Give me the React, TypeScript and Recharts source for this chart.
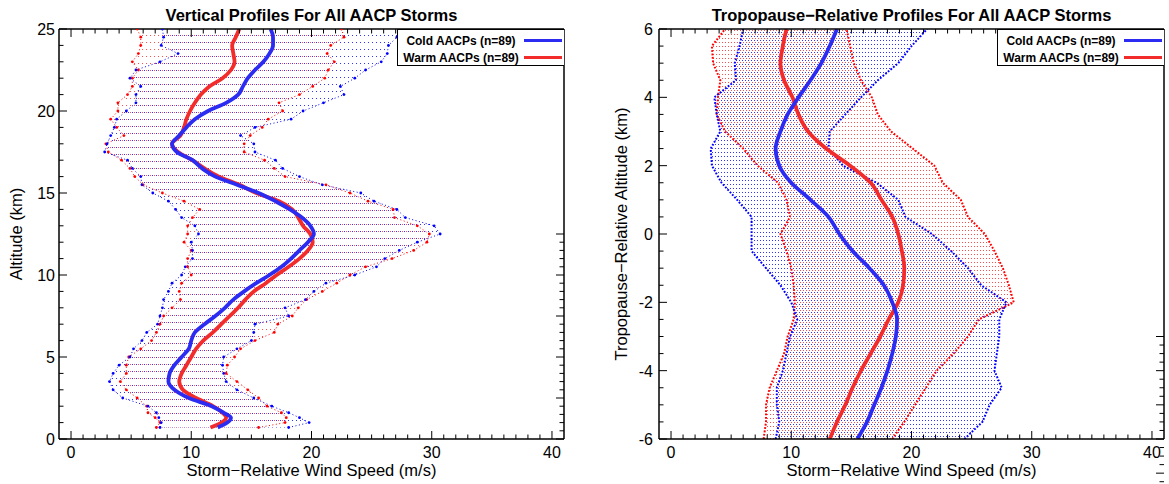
import React from 'react'
import { Area, ComposedChart, Legend, Line, XAxis, YAxis } from 'recharts'

// ---- Vertical profiles (altitude, km) ----
const altLevels = [
  0.7, 1.0, 1.3, 1.6, 2.0, 2.5, 3.0, 3.5, 4.0, 4.5, 5.0, 5.5, 6.0, 6.5, 7.0, 7.5, 8.0,
  8.5, 9.0, 9.5, 10.0, 10.5, 11.0, 11.5, 12.0, 12.5, 13.0, 13.5, 14.0, 14.5, 15.0, 15.5,
  16.0, 16.5, 17.0, 17.5, 18.0, 18.5, 19.0, 19.5, 20.0, 20.5, 21.0, 21.5, 22.0, 22.5,
  23.0, 23.5, 24.0, 24.5, 25.0,
]
const altColdMean = [
  12.2, 13.0, 13.3, 12.7, 11.7, 9.8, 8.6, 8.1, 8.2, 8.6, 9.2, 9.8, 10.0, 10.3, 11.1, 12.0, 12.8,
  13.5, 14.4, 15.4, 16.5, 17.5, 18.3, 19.0, 19.7, 20.2, 19.9, 19.2, 18.2, 17.0, 15.6, 13.8,
  12.0, 10.9, 10.1, 8.8, 8.4, 9.0, 9.6, 10.3, 11.4, 12.9, 13.9, 14.3, 14.7, 15.3,
  16.0, 16.5, 16.8, 16.8, 16.6,
]
const altWarmMean = [
  11.6, 12.5, 12.9, 12.6, 11.8, 10.4, 9.3, 9.0, 9.2, 9.6, 10.0, 10.4, 11.0, 11.8, 12.5, 13.2, 13.9,
  14.5, 15.2, 16.2, 17.1, 18.1, 19.0, 19.7, 20.1, 19.9, 19.3, 18.9, 18.4, 17.3, 15.4, 14.0,
  12.3, 11.1, 10.1, 8.9, 8.4, 9.1, 9.4, 9.6, 9.9, 10.3, 10.8, 11.5, 12.6, 13.3,
  13.6, 13.5, 13.4, 13.7, 14.0,
]
const altColdLo = [
  7.4, 7.5, 7.3, 7.1, 6.4, 4.3, 3.5, 3.2, 3.5, 4.0, 4.9, 5.2, 5.9, 6.3, 7.2, 7.4, 7.6,
  7.7, 8.1, 8.4, 9.2, 9.5, 10.1, 10.1, 10.0, 10.6, 10.3, 9.2, 8.7, 8.1, 6.8, 5.9,
  5.8, 5.1, 4.7, 2.8, 3.0, 3.3, 3.6, 3.8, 4.6, 5.4, 5.4, 5.8, 4.9, 5.4,
  7.4, 8.9, 7.5, 7.7, 7.6,
]
const altColdHi = [
  18.1, 19.8, 19.0, 18.1, 16.7, 15.2, 13.8, 12.9, 12.7, 12.6, 12.7, 13.8, 15.0, 15.2, 15.3, 18.1, 17.8,
  19.5, 20.2, 21.2, 23.6, 25.4, 26.1, 27.3, 28.8, 30.7, 30.2, 27.8, 27.1, 25.2, 24.1, 20.9,
  19.0, 17.6, 17.0, 15.3, 15.2, 14.1, 15.3, 18.3, 19.3, 21.0, 22.7, 22.4, 23.6, 24.5,
  25.8, 26.3, 26.4, 27.1, 27.5,
]
const altWarmLo = [
  7.1, 7.4, 7.0, 6.4, 6.3, 5.5, 4.6, 4.1, 4.6, 4.6, 4.8, 5.8, 6.7, 7.1, 7.4, 7.7, 8.4,
  9.1, 9.0, 9.2, 10.0, 9.7, 9.7, 10.0, 9.4, 9.7, 9.7, 10.1, 10.7, 9.4, 7.6, 6.0,
  5.3, 4.9, 4.2, 3.1, 2.9, 4.4, 3.8, 3.3, 3.9, 3.9, 4.7, 5.1, 5.1, 5.6,
  5.1, 5.6, 5.8, 5.8, 5.5,
]
const altWarmHi = [
  15.6, 17.8, 17.9, 17.5, 16.3, 15.6, 14.7, 13.8, 12.9, 13.0, 13.6, 14.1, 15.3, 16.9, 17.2, 18.4, 18.9,
  19.6, 20.9, 22.1, 23.2, 24.5, 26.7, 28.5, 29.6, 29.8, 28.8, 26.9, 26.8, 24.7, 23.2, 21.2,
  17.8, 16.9, 16.1, 14.4, 14.4, 14.9, 15.9, 16.4, 17.6, 17.3, 19.0, 20.1, 21.1, 21.4,
  21.9, 21.3, 21.6, 22.7, 22.5,
]

// ---- Tropopause-relative profiles (km above/below tropopause) ----
const tropLevels = [
  -6, -5.5, -5, -4.5, -4, -3.5, -3, -2.5, -2, -1.5, -1, -0.5, 0,
  0.5, 1, 1.5, 2, 2.5, 3, 3.5, 4, 4.5, 5, 5.5, 6,
]
const tropColdMean = [
  15.5, 16.3, 16.9, 17.5, 18.0, 18.4, 18.7, 18.8, 18.4, 17.7, 16.5, 15.1, 14.0,
  13.1, 11.6, 10.0, 9.0, 8.7, 9.1, 9.7, 10.6, 11.6, 12.5, 13.2, 13.8,
]
const tropWarmMean = [
  13.2, 13.8, 14.5, 15.1, 15.8, 16.6, 17.4, 18.1, 18.9, 19.3, 19.4, 19.2, 18.9,
  18.4, 17.5, 16.6, 14.9, 12.9, 11.4, 10.6, 10.1, 9.4, 9.1, 9.3, 9.6,
]
const tropColdLo = [
  8.7, 9.0, 8.8, 8.8, 9.3, 9.6, 9.9, 10.5, 10.0, 9.1, 7.9, 6.7, 6.7,
  6.7, 5.5, 4.2, 3.4, 3.3, 4.1, 3.8, 3.6, 5.4, 5.3, 5.7, 6.0,
]
const tropColdHi = [
  24.4, 25.9, 26.5, 27.5, 26.9, 27.1, 27.3, 27.3, 27.9, 25.8, 24.7, 23.3, 21.7,
  19.5, 18.9, 17.1, 14.3, 13.1, 13.2, 14.5, 15.8, 17.2, 18.9, 20.0, 21.3,
]
const tropWarmLo = [
  7.7, 7.9, 7.9, 8.2, 8.8, 9.4, 9.7, 10.2, 10.3, 10.2, 10.0, 9.6, 9.1,
  9.9, 9.6, 8.9, 7.2, 6.0, 4.5, 3.8, 3.9, 4.1, 3.5, 3.4, 4.5,
]
const tropWarmHi = [
  18.4, 19.4, 20.3, 21.2, 22.1, 23.5, 24.7, 25.6, 28.5, 28.1, 27.6, 26.9, 26.1,
  24.7, 24.1, 22.6, 21.9, 20.1, 18.3, 17.2, 16.7, 15.8, 15.2, 14.9, 14.6,
]

// axis ticks
const speedTicks = Array.from({ length: 41 }, (_, i) => i)
const speedLabels = [0, 10, 20, 30, 40]
const altTicks = Array.from({ length: 26 }, (_, i) => i)
const altLabels = [0, 5, 10, 15, 20, 25]
const tropTicks = Array.from({ length: 25 }, (_, i) => -6 + i * 0.5)
const tropLabels = [-6, -4, -2, 0, 2, 4, 6]

const COLD_NAME = 'Cold AACPs (n=89)'
const WARM_NAME = 'Warm AACPs (n=89)'
const BLUE = '#0000ff'
const RED = '#ff0000'
const BLUE_LINE = '#2b2bf2'
const RED_LINE = '#f22b2b'
const FONT = '"Liberation Sans", Arial, Helvetica, sans-serif'

const PLOT_TOP = 29
const CHART_H = 484
const PLOT_BOTTOM = 439
const MAJOR = 8
const MINOR = 4.5
// axes get a 1px band so they still render
const AX = 1

const isLabel = (labels: number[], v: number) => labels.some((l) => Math.abs(l - v) < 1e-6)

function BottomTick({ x, y, payload, labels }: any) {
  const major = isLabel(labels, payload.value)
  return (
    <g>
      <line x1={x} x2={x} y1={y} y2={y - (major ? MAJOR : MINOR)} stroke="#000" strokeWidth={1} />
      {major && (
        <text x={x} y={y + 19} textAnchor="middle" fontSize={16} fill="#000" fontFamily={FONT}>
          {payload.value}
        </text>
      )}
    </g>
  )
}

function TopTick({ x, y, payload, labels }: any) {
  const major = isLabel(labels, payload.value)
  return <line x1={x} x2={x} y1={y} y2={y + (major ? MAJOR : MINOR)} stroke="#000" strokeWidth={1} />
}

function LeftTick({ x, y, payload, labels, gap }: any) {
  const major = isLabel(labels, payload.value)
  return (
    <g>
      <line x1={x} x2={x + (major ? MAJOR : MINOR)} y1={y} y2={y} stroke="#000" strokeWidth={1} />
      {major && (
        <text x={x - gap} y={y + 6} textAnchor="end" fontSize={16} fill="#000" fontFamily={FONT}>
          {payload.value}
        </text>
      )}
    </g>
  )
}

function RightTick({ x, y, payload, labels }: any) {
  const major = isLabel(labels, payload.value)
  return <line x1={x} x2={x - (major ? MAJOR : MINOR)} y1={y} y2={y} stroke="#000" strokeWidth={1} />
}

function LegendBox({ payload }: any) {
  const items = ['coldMean', 'warmMean']
    .map((k) => (payload || []).find((p: any) => p.dataKey === k))
    .filter(Boolean)
  return (
    <div
      style={{
        width: 167,
        height: 37,
        boxSizing: 'border-box',
        border: '1.5px solid #000',
        borderRight: 'none',
        background: '#fff',
        paddingTop: 2,
        fontFamily: FONT,
      }}
    >
      {items.map((it: any) => (
        <div key={it.dataKey} style={{ display: 'flex', alignItems: 'center', height: 17 }}>
          <span style={{ width: 126, textAlign: 'center', fontWeight: 'bold', fontSize: 12, color: '#000' }}>
            {it.value}
          </span>
          <span style={{ width: 38, height: 3, background: it.color }} />
        </div>
      ))}
    </div>
  )
}

type Series = { mean: number[]; lo: number[]; hi: number[] }

type PanelProps = {
  id: string
  left: number
  width: number
  plotLeft: number
  plotRight: number
  title: string
  yTitle: string
  yTitleX: number
  levels: number[]
  cold: Series
  warm: Series
  yDomain: [number, number]
  yTicks: number[]
  yLabels: number[]
  labelGap: number
  rowGap: number
  dotGap: number
  edge: { width: number; dash: string; r: number }
}

function ProfilePanel(p: PanelProps) {
  const plotW = p.plotRight - p.plotLeft
  const data = p.levels.map((alt, i) => ({
    alt,
    coldMean: p.cold.mean[i],
    warmMean: p.warm.mean[i],
    coldLo: p.cold.lo[i],
    coldHi: p.cold.hi[i],
    warmLo: p.warm.lo[i],
    warmHi: p.warm.hi[i],
    coldBand: [p.cold.lo[i], p.cold.hi[i]],
    warmBand: [p.warm.lo[i], p.warm.hi[i]],
  }))
  const edgeLine = (key: string, color: string) => (
    <Line
      key={key}
      dataKey={key}
      type="linear"
      stroke={color}
      strokeWidth={p.edge.width}
      strokeDasharray={p.edge.dash}
      dot={p.edge.r ? { r: p.edge.r, fill: color, stroke: 'none' } : false}
      activeDot={false}
      legendType="none"
      isAnimationActive={false}
    />
  )
  const axisLine = { stroke: '#000', strokeWidth: 1.5 }
  return (
    <div style={{ position: 'absolute', left: p.left, top: 0, width: p.width, height: CHART_H }}>
      <div
        style={{
          position: 'absolute',
          left: p.plotLeft,
          width: plotW,
          top: 5,
          lineHeight: '20px',
          textAlign: 'center',
          whiteSpace: 'nowrap',
          fontWeight: 'bold',
          fontSize: 16.5,
          fontFamily: FONT,
        }}
      >
        {p.title}
      </div>
      <div
        style={{
          position: 'absolute',
          left: p.plotLeft,
          width: plotW,
          top: 462,
          lineHeight: '16px',
          textAlign: 'center',
          fontSize: 16.5,
          fontFamily: FONT,
        }}
      >
        Storm−Relative Wind Speed (m/s)
      </div>
      <div
        style={{
          position: 'absolute',
          left: p.yTitleX - 200,
          width: 400,
          top: (PLOT_TOP + PLOT_BOTTOM) / 2 - 10,
          textAlign: 'center',
          fontSize: 16.5,
          fontFamily: FONT,
          transform: 'rotate(-90deg)',
          lineHeight: '20px',
        }}
      >
        {p.yTitle}
      </div>
      <ComposedChart
        width={p.width}
        height={CHART_H}
        layout="vertical"
        data={data}
        margin={{
          top: PLOT_TOP - AX,
          bottom: CHART_H - PLOT_BOTTOM - AX,
          left: p.plotLeft - AX,
          right: p.width - p.plotRight - AX,
        }}
      >
        <defs>
          <pattern id={`${p.id}-cold`} width={p.dotGap} height={p.rowGap} patternUnits="userSpaceOnUse">
            <rect x={0} y={0} width={1} height={1} fill={BLUE} fillOpacity={0.8} />
          </pattern>
          <pattern id={`${p.id}-warm`} width={p.dotGap} height={p.rowGap} patternUnits="userSpaceOnUse">
            <rect
              x={Math.floor(p.dotGap / 2)}
              y={p.rowGap > 5 ? 0 : Math.floor(p.rowGap / 2)}
              width={1}
              height={1}
              fill={RED}
              fillOpacity={0.7}
            />
          </pattern>
        </defs>
        <XAxis
          type="number"
          domain={[-1, 41]}
          ticks={speedTicks}
          interval={0}
          allowDataOverflow
          height={AX}
          tickSize={0}
          tickMargin={0}
          axisLine={axisLine}
          tick={(t: any) => <BottomTick {...t} labels={speedLabels} />}
        />
        <XAxis
          xAxisId="top"
          orientation="top"
          type="number"
          domain={[-1, 41]}
          ticks={speedTicks}
          interval={0}
          allowDataOverflow
          height={AX}
          tickSize={0}
          tickMargin={0}
          axisLine={axisLine}
          tick={(t: any) => <TopTick {...t} labels={speedLabels} />}
        />
        <YAxis
          type="number"
          dataKey="alt"
          reversed
          domain={p.yDomain}
          ticks={p.yTicks}
          interval={0}
          allowDataOverflow
          width={AX}
          tickSize={0}
          tickMargin={0}
          axisLine={axisLine}
          tick={(t: any) => <LeftTick {...t} labels={p.yLabels} gap={p.labelGap} />}
        />
        <YAxis
          yAxisId="right"
          orientation="right"
          type="number"
          reversed
          domain={p.yDomain}
          ticks={p.yTicks}
          interval={0}
          allowDataOverflow
          width={AX}
          tickSize={0}
          tickMargin={0}
          axisLine={axisLine}
          tick={(t: any) => <RightTick {...t} labels={p.yLabels} />}
        />
        <Area
          dataKey="coldBand"
          type="linear"
          stroke="none"
          fill={`url(#${p.id}-cold)`}
          fillOpacity={1}
          dot={false}
          activeDot={false}
          legendType="none"
          isAnimationActive={false}
        />
        <Area
          dataKey="warmBand"
          type="linear"
          stroke="none"
          fill={`url(#${p.id}-warm)`}
          fillOpacity={1}
          dot={false}
          activeDot={false}
          legendType="none"
          isAnimationActive={false}
        />
        {edgeLine('warmLo', RED)}
        {edgeLine('warmHi', RED)}
        {edgeLine('coldLo', BLUE)}
        {edgeLine('coldHi', BLUE)}
        <Line
          dataKey="warmMean"
          name={WARM_NAME}
          type="monotone"
          stroke={RED_LINE}
          strokeWidth={3.8}
          dot={false}
          activeDot={false}
          isAnimationActive={false}
        />
        <Line
          dataKey="coldMean"
          name={COLD_NAME}
          type="monotone"
          stroke={BLUE_LINE}
          strokeWidth={3.8}
          dot={false}
          activeDot={false}
          isAnimationActive={false}
        />
        <Legend
          layout="vertical"
          align="center"
          verticalAlign="middle"
          wrapperStyle={{ top: PLOT_TOP, left: p.plotRight - 167, width: 167 }}
          content={(props: any) => <LegendBox {...props} />}
        />
      </ComposedChart>
    </div>
  )
}

export default function App() {
  return (
    <div
      style={{
        position: 'absolute',
        left: 0,
        top: 0,
        width: 1169,
        height: 484,
        overflow: 'hidden',
        background: '#fff',
        fontFamily: FONT,
      }}
    >
      <ProfilePanel
        id="vert"
        left={0}
        width={590}
        plotLeft={59}
        plotRight={564}
        title="Vertical Profiles For All AACP Storms"
        yTitle="Altitude (km)"
        yTitleX={16}
        levels={altLevels}
        cold={{ mean: altColdMean, lo: altColdLo, hi: altColdHi }}
        warm={{ mean: altWarmMean, lo: altWarmLo, hi: altWarmHi }}
        yDomain={[0, 25]}
        yTicks={altTicks}
        yLabels={altLabels}
        labelGap={4}
        rowGap={7}
        dotGap={4}
        edge={{ width: 1, dash: '1 2.5', r: 1.4 }}
      />
      <ProfilePanel
        id="trop"
        left={580}
        width={620}
        plotLeft={79}
        plotRight={584}
        title="Tropopause−Relative Profiles For All AACP Storms"
        yTitle="Tropopause−Relative Altitude (km)"
        yTitleX={41}
        levels={tropLevels}
        cold={{ mean: tropColdMean, lo: tropColdLo, hi: tropColdHi }}
        warm={{ mean: tropWarmMean, lo: tropWarmLo, hi: tropWarmHi }}
        yDomain={[-6, 6]}
        yTicks={tropTicks}
        yLabels={tropLabels}
        labelGap={6}
        rowGap={4}
        dotGap={3}
        edge={{ width: 2, dash: '1.8 1.6', r: 0 }}
      />
    </div>
  )
}
